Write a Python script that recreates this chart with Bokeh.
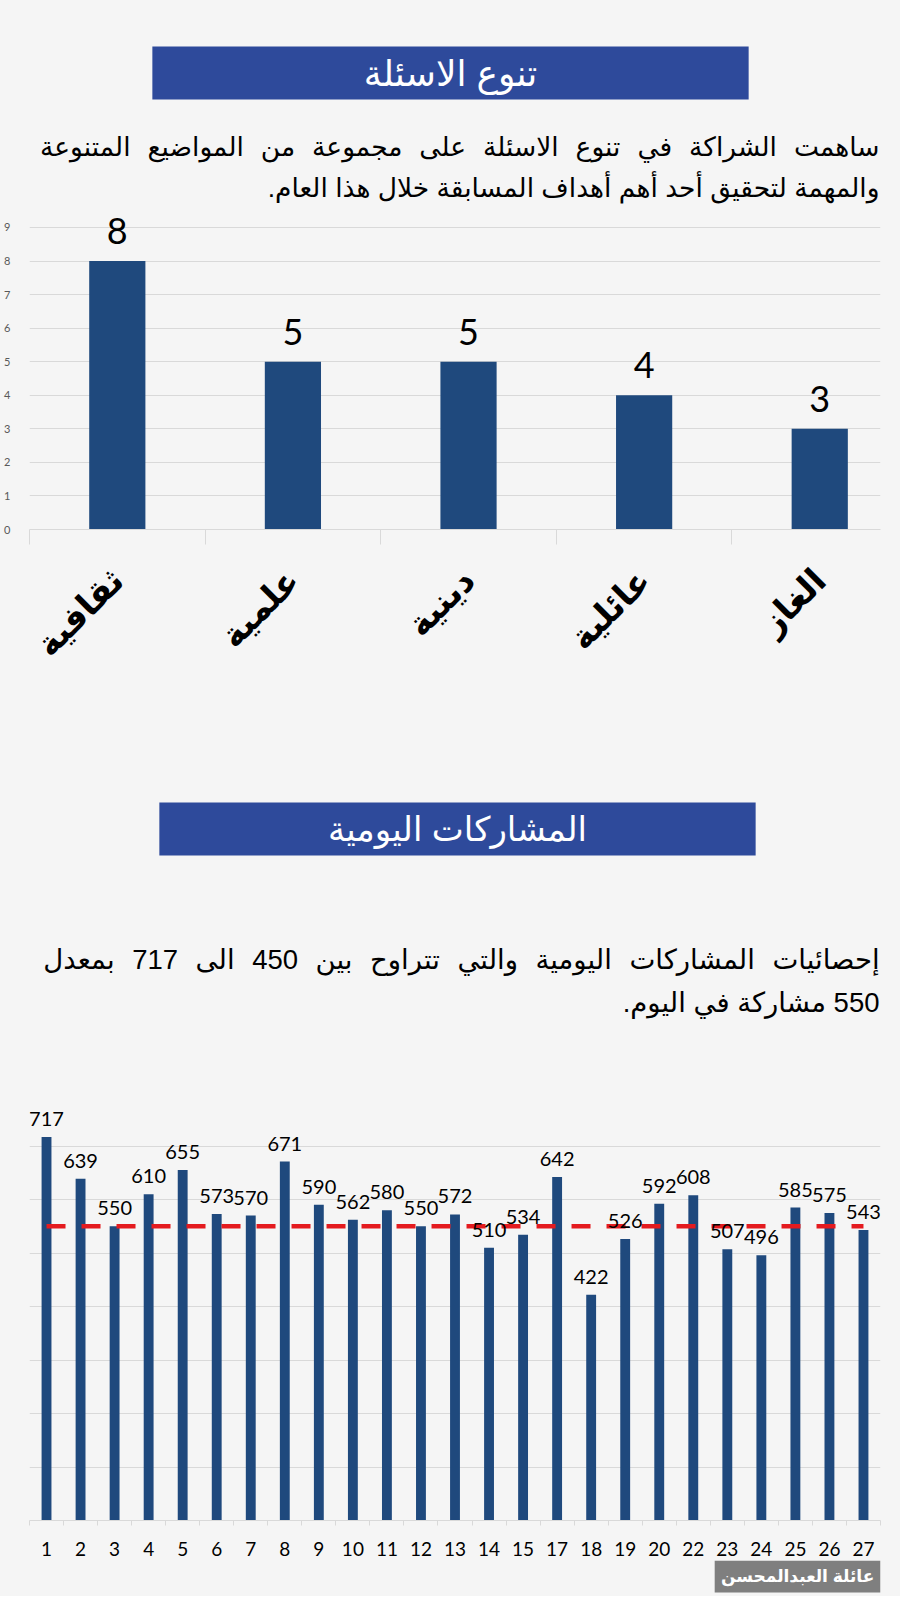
import math
from bokeh.plotting import figure
from bokeh.models import (Range1d, FixedTicker, SingleIntervalTicker, ColumnDataSource,
                          LabelSet, Grid, LinearAxis)
from bokeh.layouts import column
from bokeh.core.properties import value
from bokeh.embed import file_html
from bokeh.resources import INLINE

# ---------------- data ----------------
title1 = "تنوع الاسئلة"
para1 = ["ساهمت الشراكة في تنوع الاسئلة على مجموعة من المواضيع المتنوعة",
         "والمهمة لتحقيق أحد أهم أهداف المسابقة خلال هذا العام."]
categories1 = ["ثقافية", "علمية", "دينية", "عائلية", "الغاز"]
counts1 = [8, 5, 5, 4, 3]
y_ticks1 = [0, 1, 2, 3, 4, 5, 6, 7, 8, 9]

title2 = "المشاركات اليومية"
para2 = ["إحصائيات المشاركات اليومية والتي تتراوح بين 450 الى 717 بمعدل",
         "550 مشاركة في اليوم."]
days = ["1", "2", "3", "4", "5", "6", "7", "8", "9", "10", "11", "12", "13", "14", "15",
        "17", "18", "19", "20", "22", "23", "24", "25", "26", "27"]
participants = [717, 639, 550, 610, 655, 573, 570, 671, 590, 562, 580, 550, 572, 510, 534,
                642, 422, 526, 592, 608, 507, 496, 585, 575, 543]
average = 550
watermark = "عائلة العبدالمحسن"

# ---------------- style ----------------
W = 900
BL, BR = 28, 20          # side borders of each figure (frame spans BL .. W-BR)
BG = "#F5F5F5"
BOX = "#2E4A9B"
BAR = "#1F497D"
GRID = "#D9D9D9"
RED = "#E41B1F"
AR_FONT = "Liberation Sans, DejaVu Sans"
NUM_FONT = "Lato"


def rtl(s):
    return "\u200f" + s + "\u200f"


def justify(s):
    # wider word gaps for a justified first line
    return s.replace(" ", " \u00a0\u200a")


def base_fig(height, **kw):
    p = figure(width=W, height=height, output_backend="svg", toolbar_location=None,
               x_axis_location=None, y_axis_location=None,
               background_fill_color=BG, border_fill_color=BG, outline_line_color=None, **kw)
    p.xgrid.visible = False
    p.ygrid.visible = False
    p.styles = {"background-color": BG}
    return p


def page_fig(height):
    # x in page pixels, y in pixels from the top of this figure
    return base_fig(height, x_range=Range1d(BL, W - BR), y_range=Range1d(height, 0),
                    min_border_left=BL, min_border_right=BR, min_border_top=0,
                    min_border_bottom=0)


def header(height, box, title, tsize, lines, line_ys, right_x, size):
    p = page_fig(height)
    l, r, t, b = box
    p.quad(left=[l], right=[r], top=[t], bottom=[b], fill_color=BOX, line_color=None)
    p.text(x=[(l + r) / 2], y=[(t + b) / 2], text=[rtl(title)], text_align="center",
           text_baseline="middle", text_color="white", text_font=value(AR_FONT),
           text_font_size=tsize)
    txt = [rtl(justify(lines[0]))] + [rtl(s) for s in lines[1:]]
    p.text(x=[right_x] * len(lines), y=line_ys, text=txt,
           text_align="right", text_baseline="middle", text_color="black",
           text_font=value(AR_FONT), text_font_size=size)
    return p


pa = header(205, (151, 748, 46, 99), title1, "36px", para1, [146, 187], 879, "26.5px")
pc = header(370, (158, 755, 102, 155), title2, "34px", para2, [259, 302], 879, "27.5px")

# ---------------- chart 1 ----------------
n1 = len(categories1)
x1 = [i + 0.5 for i in range(n1)]
src1 = ColumnDataSource(dict(x=x1, top=counts1, label=[str(v) for v in counts1]))
pb = base_fig(495, x_range=Range1d(0, 4.846), y_range=Range1d(0, 9.595),
              min_border_left=BL, min_border_right=BR, min_border_top=2, min_border_bottom=171)
yax1 = LinearAxis(ticker=FixedTicker(ticks=y_ticks1), axis_line_color=None,
                  major_tick_line_color=None, minor_tick_line_color=None,
                  major_label_standoff=13, major_label_text_font_size="11px",
                  major_label_text_color="#595959", major_label_text_font=NUM_FONT)
pb.add_layout(yax1, "left")
pb.add_layout(Grid(dimension=1, ticker=FixedTicker(ticks=y_ticks1), grid_line_color=GRID))
xax1 = LinearAxis(ticker=FixedTicker(ticks=x1, minor_ticks=list(range(n1 + 1))),
                  axis_line_color=GRID, major_tick_line_color=None,
                  minor_tick_line_color=GRID, minor_tick_out=15, minor_tick_in=0,
                  major_label_overrides={x: c for x, c in zip(x1, categories1)},
                  major_label_orientation=math.pi / 4, major_label_standoff=30,
                  major_label_text_font=AR_FONT, major_label_text_font_style="bold",
                  major_label_text_font_size="34px", major_label_text_color="black")
pb.add_layout(xax1, "below")
pb.vbar(x="x", top="top", width=0.32, source=src1, fill_color=BAR, line_color=None)
pb.add_layout(LabelSet(x="x", y="top", text="label", source=src1, y_offset=17,
                       text_align="center", text_baseline="alphabetic",
                       text_font=value(NUM_FONT), text_font_size="36px", text_color="black"))

# ---------------- chart 2 ----------------
n2 = len(days)
x2 = [i + 0.5 for i in range(n2)]
src2 = ColumnDataSource(dict(x=x2, top=participants, label=[str(v) for v in participants],
                             avg=[average] * n2))
pd_ = base_fig(490, x_range=Range1d(0, n2), y_range=Range1d(0, 800),
               min_border_left=29, min_border_right=BR, min_border_top=22, min_border_bottom=40)
pd_.add_layout(Grid(dimension=1, ticker=SingleIntervalTicker(interval=100), grid_line_color=GRID))
xax2 = LinearAxis(ticker=FixedTicker(ticks=x2, minor_ticks=list(range(n2 + 1))),
                  axis_line_color=GRID, major_tick_line_color=None,
                  minor_tick_line_color=GRID, minor_tick_out=5, minor_tick_in=0,
                  major_label_overrides={x: d for x, d in zip(x2, days)},
                  major_label_standoff=15, major_label_text_font=NUM_FONT,
                  major_label_text_font_size="19px", major_label_text_color="black")
pd_.add_layout(xax2, "below")
pd_.vbar(x="x", top="top", width=0.29, source=src2, fill_color=BAR, line_color=None)
pd_.line(x="x", y="avg", source=src2, line_color=RED, line_width=4.5, line_dash="19 16")
pd_.add_layout(LabelSet(x="x", y="top", text="label", source=src2, y_offset=11,
                        text_align="center", text_baseline="alphabetic",
                        text_font=value(NUM_FONT), text_font_size="20px", text_color="black"))

# ---------------- watermark ----------------
pe = page_fig(36)
pe.quad(left=[714], right=[880], top=[0], bottom=[32], fill_color="#7F7F7F", line_color=None)
pe.text(x=[797], y=[16], text=[rtl(watermark)], text_align="center", text_baseline="middle",
        text_color="white", text_font=value(AR_FONT), text_font_style="bold",
        text_font_size="17px")

layout = column(pa, pb, pc, pd_, pe, spacing=0)
layout.styles = {"background-color": BG}
open("out.html", "w").write(file_html(layout, INLINE))
